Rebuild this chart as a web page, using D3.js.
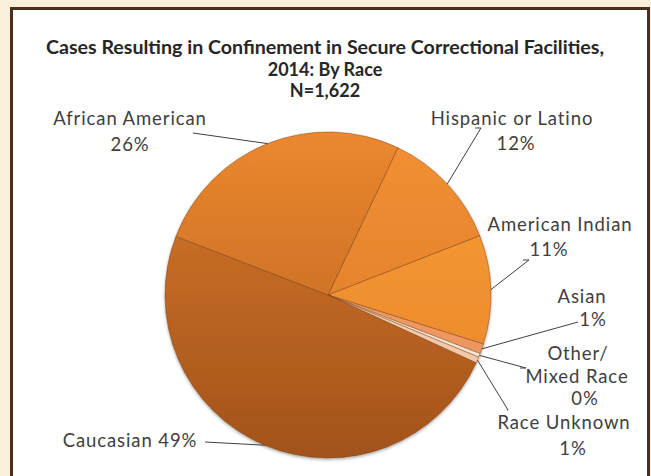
<!DOCTYPE html>
<html>
<head>
<meta charset="utf-8">
<script src="https://cdn.jsdelivr.net/npm/d3@7"></script>
<style>
  html, body { margin: 0; padding: 0; background: #faf0dc; }
  svg { display: block; }
</style>
</head>
<body>
<svg id="chart" width="651" height="476"></svg>
<script>
// --- Data ---
const categories = ["Hispanic or Latino", "American Indian", "Asian", "Other/ Mixed Race", "Race Unknown", "Caucasian", "African American"];
const counts = [195, 175, 16, 6, 10, 795, 425];
const pctLabels = ["12%", "11%", "1%", "0%", "1%", "49%", "26%"];
const titleLines = ["Cases Resulting in Confinement in Secure Correctional Facilities,", "2014: By Race", "N=1,622"];

// --- Styles / layout (not data) ---
const sliceTop = ["#f39032", "#fb9e36", "#f6a46c", "#fff6ee", "#fbdcc0", "#d87a2a", "#ec882e"];
const sliceBottom = ["#d8782a", "#e5832a", "#e98f58", "#f5dcc6", "#eebf9c", "#a2521b", "#b35e20"];
// label text lines, centre x, first-line y, line step; leader end points
const labelLayout = [
  { lines: ["Hispanic or Latino", "12%"], x: [512, 516], y: 118, step: 25, leader: [[481, 128], [475, 128]] },
  { lines: ["American Indian", "11%"], x: [560, 549], y: 224, step: 25, leader: [[529, 260], [523, 260]] },
  { lines: ["Asian", "1%"], x: [582, 593], y: 296, step: 23, leader: [[578, 322]] },
  { lines: ["Other/", "Mixed Race", "0%"], x: [578, 577, 585], y: 353, step: 22.5, leader: [[526, 368], [520, 368]] },
  { lines: ["Race Unknown", "1%"], x: [564, 573], y: 422, step: 26, leader: [[508, 410], [507, 410]] },
  { lines: ["Caucasian 49%"], x: [130], y: 440, step: 0, leader: [[205, 442]] },
  { lines: ["African American", "26%"], x: [130, 130], y: 118, step: 26, leader: [[193, 133]] }
];

const svg = d3.select("#chart");
const width = +svg.attr("width");
const height = +svg.attr("height");

const cx = 328, cy = 295, r = 163;
const startDeg = 25.4;

// --- Panel ---
svg.append("rect")
  .attr("x", 11.5).attr("y", 8.5)
  .attr("width", 637).attr("height", 480)
  .attr("fill", "#ffffff")
  .attr("stroke", "#4b2f1c")
  .attr("stroke-width", 3);

const defs = svg.append("defs");

const shadow = defs.append("filter").attr("id", "pieShadow")
  .attr("x", "-10%").attr("y", "-10%").attr("width", "120%").attr("height", "120%");
shadow.append("feDropShadow")
  .attr("dx", 0).attr("dy", 1.5)
  .attr("stdDeviation", 1.8)
  .attr("flood-color", "#000")
  .attr("flood-opacity", 0.35);

// gradients are in the pie group's own coordinates (origin = pie centre)
categories.forEach((c, i) => {
  const grad = defs.append("linearGradient")
    .attr("id", `grad${i}`)
    .attr("gradientUnits", "userSpaceOnUse")
    .attr("x1", 0).attr("x2", 0)
    .attr("y1", -r).attr("y2", r);
  grad.append("stop").attr("offset", "0%").attr("stop-color", sliceTop[i]);
  grad.append("stop").attr("offset", "100%").attr("stop-color", sliceBottom[i]);
});

// --- Title ---
const title = svg.append("g")
  .attr("font-family", "Lato, 'Open Sans', sans-serif")
  .attr("font-weight", "bold")
  .attr("font-size", 18)
  .attr("fill", "#262626")
  .attr("text-anchor", "middle");

titleLines.forEach((t, i) => {
  const tx = title.append("text")
    .attr("x", 325)
    .attr("y", 47 + i * 21.5)
    .attr("dominant-baseline", "central")
    .text(t);
  if (i === 0) tx.attr("textLength", 558).attr("lengthAdjust", "spacingAndGlyphs");
});

// --- Pie ---
const pie = d3.pie()
  .sort(null)
  .value(d => d)
  .startAngle(startDeg * Math.PI / 180)
  .endAngle(startDeg * Math.PI / 180 + 2 * Math.PI);

const arcs = pie(counts);

const arc = d3.arc().innerRadius(0).outerRadius(r);
const edge = d3.arc().innerRadius(r).outerRadius(r);

const g = svg.append("g").attr("transform", `translate(${cx},${cy})`);

g.append("g")
  .attr("filter", "url(#pieShadow)")
  .selectAll("path")
  .data(arcs)
  .join("path")
  .attr("d", arc)
  .attr("fill", (d, i) => `url(#grad${i})`)
  .attr("stroke", "rgba(120,60,15,0.55)")
  .attr("stroke-width", 0.8)
  .attr("stroke-linejoin", "round");

// --- Leader lines ---
const line = d3.line();
arcs.forEach((d, i) => {
  const p = edge.centroid(d);
  const pts = [[p[0] + cx, p[1] + cy]].concat(labelLayout[i].leader);
  svg.append("path")
    .attr("d", line(pts.reverse()))
    .attr("fill", "none")
    .attr("stroke", "#404040")
    .attr("stroke-width", 1);
});

// --- Labels ---
const labels = svg.append("g")
  .attr("font-family", "Lato, 'Open Sans', sans-serif")
  .attr("font-size", 18.5)
  .attr("letter-spacing", 0.9)
  .attr("fill", "#404040")
  .attr("text-anchor", "middle");

labelLayout.forEach((L, i) => {
  L.lines.forEach((t, j) => {
    labels.append("text")
      .attr("x", L.x[j])
      .attr("y", L.y + j * L.step)
      .attr("dominant-baseline", "central")
      .text(t);
  });
});
</script>
</body>
</html>
